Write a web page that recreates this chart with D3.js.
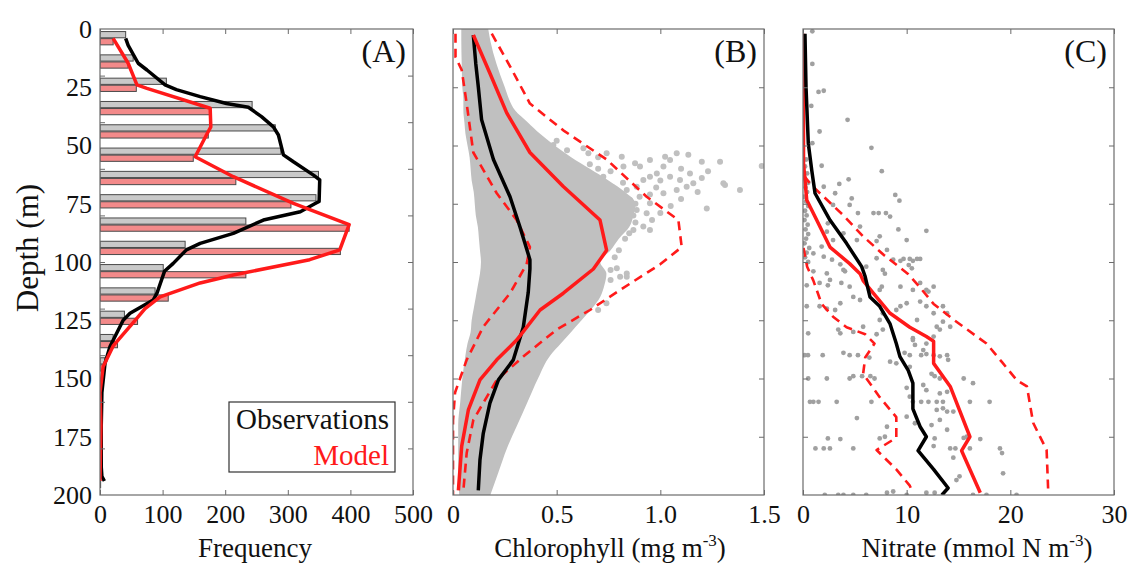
<!DOCTYPE html>
<html>
<head>
<meta charset="utf-8">
<script src="https://cdn.jsdelivr.net/npm/d3@7"></script>
<style>
  body { margin: 0; background: #fff; }
  text { font-family: "Liberation Serif", "Times New Roman", serif; fill: #111; }
</style>
</head>
<body>
<div id="chart-area"></div>
<script>
// ---- data ----
// (A) histogram, 10 m bins
var bins = ["0-10","10-20","20-30","30-40","40-50","50-60","60-70","70-80","80-90","90-100",
            "100-110","110-120","120-130","130-140","140-150","150-160","160-170","170-180","180-190","190-200"];
var obsFreq   = [41, 53, 106, 243, 280, 289, 349, 345, 233, 136, 101, 88, 39, 21, 8, 4, 3, 2, 2, 1];
var modelFreq = [21, 45, 58, 177, 173, 149, 217, 305, 398, 384, 233, 109, 60, 28, 6, 3, 2, 1, 1, 1];

// (A) smoothed frequency profiles [depth, frequency]
var obsFreqLine = [[4,41],[7,45],[14.7,61],[17.6,75],[24,104],[26,122],[29,160],[32,202],[33.6,237],[37.6,258],
  [42,277],[45.5,285],[54,293],[57,309],[62.7,341],[64.8,351],[74,350],[75,343],[78.4,320],[82,261],[87.7,213],
  [92,160],[94.8,138],[100.6,117],[104,103],[113.4,91],[116.3,85],[122,48],[125,37],[132,24],[136.3,16],
  [143.5,8],[156,3],[170,2],[188,2],[192,3],[194,7]];
var modelFreqLine = [[4,21],[14.7,45],[24,59],[25.5,75],[34,176],[42,177],[45.5,170],[54.8,152],[63.4,213],
  [74.8,309],[84,398],[94.8,383],[99,335],[105.6,213],[109,160],[115,96],[120,72],[126,53],[136,21],[145,5],
  [156,0],[170,1.5],[194,0]];

// (B) chlorophyll [depth, chl]
var chlObs = [[2.6,.098],[15,.11],[24.8,.122],[39,.138],[56,.195],[72,.275],[85,.323],[99,.371],[103,.371],
  [113,.363],[128,.339],[142,.291],[150.6,.219],[160.6,.178],[173.5,.146],[185,.130],[198,.122]];
var chlModel = [[2.6,.098],[19,.178],[36,.259],[53,.371],[67.6,.532],[82,.709],[95,.741],[103,.677],[113.4,.532],
  [120.6,.420],[133.5,.307],[142,.211],[150.6,.130],[163.5,.074],[179,.042],[198,.026]];
var chlModelHi = [[2,.187],[16,.275],[32,.371],[43.5,.532],[56,.741],[72,.934],[82,1.087],[93.6,1.103],[101,.999],
  [112,.806],[120.6,.661],[129,.500],[140.6,.339],[150.6,.211],[167.8,.098],[182,.066],[198,.050]];
var chlModelLo = [[2,.012],[12,.012],[17.6,.042],[32,.066],[53,.098],[70.5,.211],[82,.307],[93.6,.371],[101,.355],
  [113.4,.275],[127.8,.146],[142,.066],[156,.01],[168,0],[200,0]];
// dense observation cloud: [depth, min chl, max chl]
var chlCloud = [[0,.04,.17],[5,.04,.18],[15,.042,.21],[25,.045,.25],[30,.05,.27],[35,.05,.30],[40,.055,.36],
  [45,.06,.42],[50,.07,.49],[55,.08,.57],[60,.085,.66],[65,.09,.75],[70,.10,.83],[75,.105,.88],[80,.11,.87],
  [85,.12,.85],[90,.125,.80],[95,.13,.76],[100,.135,.71],[105,.13,.74],[110,.12,.73],[115,.11,.71],[120,.10,.67],
  [125,.09,.62],[130,.085,.57],[135,.07,.52],[140,.06,.47],[150,.045,.41],[160,.035,.36],[170,.025,.31],
  [180,.025,.26],[190,.025,.22],[200,.03,.18]];
// scattered observations outside the dense cloud [depth, chl]
var chlPts = [[42,.33],[44,.38],[47,.40],[46.2,.371],[49,.428],[50.5,.46],[49.8,.484],[53.3,.42],[56.2,.5],[59,.532],
  [57.6,.564],[51.2,.629],[53.3,.653],[63.4,.597],[62,.645],[64.8,.693],[63.4,.725],[53.3,.741],[54.8,.814],
  [59,.822],[67.7,.766],[70.5,.79],[69.1,.838],[73.4,.854],[67.7,.886],[57.6,.878],[59,.902],[56.2,.95],
  [64.8,.918],[63.4,.95],[62,.983],[59,1.015],[56.2,1.047],[54.8,1.023],[53.3,1.079],[54,1.135],[63.4,1.047],
  [64.8,1.095],[62,1.143],[66.2,1.159],[70.5,1.015],[69.1,1.079],[67.7,1.127],[74.8,.95],[79.1,.934],[77.7,.886],
  [57,1.288],[66.2,1.304],[69.1,1.384],[77,1.224],[58.8,1.489],[67,1.312],[84.8,.918],[86.3,.95],[86.3,.87],
  [87.7,.85],[102.7,.79],[106.3,.838],[103.4,.76],[106.3,.806],[104.9,.838],[107.7,.76],[117.7,.74],[120.6,.70],
  [60,.7],[61,.76],[66,.82],[72,.9],[75,.88],[80,.87],[83,.88],[58,.66],[55,.7],[52,.55],[48,.5],[68,.98],[71,.95],
  [65,1.0],[60,1.1],[57,1.2],[61,1.23],[64,1.2],[70,1.18],[73,1.1],[76,1.05],[79,1.0],[82,.96],[90,.83],[95,.8],[98,.78]];

// (C) nitrate [depth, N]
var nitObs = [[2,.19],[24.8,.29],[49,.51],[60.5,.84],[70.5,1.16],[82,2.6],[92,4.2],[102,5.66],[106,5.98],[115,6.46],
  [119,7.4],[126.6,8.4],[135,9.0],[140.6,9.35],[146.5,10.15],[152,10.6],[163,10.6],[170.7,11.3],[175,11.9],
  [181,11.1],[189,12.6],[197,14.0],[200,13.4]];
var nitModel = [[2,.05],[57.6,.05],[64.8,.19],[73.4,.36],[82,1.32],[93.6,2.6],[100.7,4.5],[105,5.5],[108,5.8],
  [113.4,6.78],[122,8.4],[128,10.3],[132,11.9],[134,12.6],[143.5,12.6],[153.4,14.2],[175,16.1],[181,15.3],[199,17.1]];
var nitModelHi = [[63,.1],[67,.8],[72,2.0],[80,3.9],[89,5.8],[97,7.8],[105,10.1],[111,11.3],[118,12.6],[125,14.6],
  [135,17.7],[143,19.2],[150.6,20.6],[153.4,21.6],[169,22.2],[180.7,23.5],[198,23.65]];
var nitModelLo = [[94,.05],[102,.4],[108,1.0],[113,1.4],[118,1.8],[123.5,2.9],[128,4.2],[131,6.0],[135,6.9],
  [141,6.0],[148,5.8],[158,7.4],[166.6,9.0],[175.4,9.0],[180.7,7.1],[189,9.0],[196,10.3],[199,10.6]];
var nitPts = [[1,0.9],[15,0.9],[27,1.5],[26.5,2.0],[33,0.8],[39,4.3],[44,1.6],[49,0.9],[51,6.6],[58.7,1.8],[61,7.6],
  [64.5,4.4],[66.5,3.5],[67.7,2.0],[70.5,3.1],[71.2,8.9],[72.7,4.7],[73.7,9.3],[75.5,2.9],[75.5,4.5],[79,5.3],
  [79,6.8],[79,7.3],[79,8.0],[80.5,8.4],[83.4,2.4],[84.8,5.5],[86,9.2],[86.6,11.9],[87,2.3],[87.7,3.9],[89,7.4],
  [90.6,2.9],[90.6,5.2],[90.6,10.0],[91,7.1],[93.4,1.8],[94.8,8.1],[96.3,1.0],[97.7,2.0],[98.4,7.1],[98.7,9.7],
  [98.7,10.3],[98.7,11.0],[98.7,11.3],[99,2.8],[99,8.7],[99.5,9.4],[99.5,10.6],[101,3.6],[101.3,10.2],[102,6.1],
  [102.7,10.5],[103.4,3.9],[103.4,7.7],[104,1.0],[104,4.05],[104.9,2.3],[105,7.9],[107.7,2.6],[109,1.6],[109,3.7],
  [109,11.3],[110,0.36],[110,2.4],[110.6,4.5],[110.6,7.6],[110.6,9.4],[110.6,12.6],[112,7.4],[112,10.6],[112,11.9],
  [112.7,12.1],[115,4.85],[116.3,5.5],[117,11.3],[117.7,3.6],[117.7,10.0],[119,0.36],[119,1.6],[119,9.4],[119,11.9],
  [119,13.5],[120,2.3],[120.6,3.1],[120.6,9.0],[122,7.7],[122,12.6],[122,13.9],[124.9,7.4],[124.9,11.0],[125.6,13.5],
  [127.8,5.8],[127.8,12.9],[127.8,14.2],[129,3.4],[129,7.7],[129,13.2],[130,4.85],[130.6,0.5],[130.6,3.6],[131,7.1],
  [132,12.6],[132.7,10.6],[133.5,10.6],[135,11.9],[135.6,10.8],[137.8,11.6],
  [140,0.16],[140,0.48],[140,1.9],[139,3.9],[140,4.5],[140,5.3],[141,6.4],[139,9.8],[140,10.3],[140,11.4],[139.5,11.9],
  [140,12.6],[140.5,13.2],[140,13.9],[142,14.0],[142.8,8.4],[143.5,9.0],[145,10.3],
  [150,0.5],[150,2.3],[150,4.5],[149,4.85],[149,5.7],[149,6.5],[150,6.9],[148,12.4],[149,12.7],[150,13.2],[150,15.5],
  [152,16.4],[152.8,11.6],[155,11.9],[156.4,13.2],[155.7,13.9],[154,10.0],[157.8,10.3],
  [160,0.67],[160,1.0],[160,1.5],[160,3.25],[160,6.6],[160,10.6],[160,11.4],[160,12.1],[160,12.9],[160,13.5],[160,16.1],
  [160,18.0],[163.5,12.9],[162.8,13.5],[164.2,13.9],[164.2,14.5],[167,5.2],[166.4,10.0],[169.2,10.8],[170,12.4],
  [167.8,13.2],[172,13.9],[170.7,8.1],
  [175.7,2.4],[176,3.6],[175.7,7.4],[175,7.9],[175.7,12.7],[175.5,15.5],[175,15.8],[176,17.1],
  [180,1.2],[180,2.0],[180,2.6],[180,4.85],[179,12.6],[180,14.2],[180,14.7],[180,16.1],[180,19.0],[182,19.2],
  [184,14.5],[190.7,19.3],[193.6,14.8],[192,15.1],
  [200,2.1],[200,3.4],[200,3.9],[200,4.85],[200,6.1],[199,8.1],[198.5,8.7],[200,10.0],[199,11.9],[199,12.7],
  [200,13.5],[200,16.4],[200,17.7],[200,20.6],
  [56,0.3],[59,0.2],[62,0.4],[64,0.15],[66,0.5],[68,0.25],[70,0.4],[72,0.1],[74,0.3],[76,0.5],[78,0.2],[80,0.35],
  [82,0.15],[84,0.45],[86,0.25],[88,0.5],[90,0.3],[92,0.15],[94,0.6],[96,0.35],[98,0.2],[100,0.5]];

var depthLabels = [0, 25, 50, 75, 100, 125, 150, 175, 200];
var freqTicks = [0, 100, 200, 300, 400, 500];
var chlTicks = [0, 0.5, 1.0, 1.5];
var nitTicks = [0, 10, 20, 30];

// ---- layout ----
var W = 1136, H = 564;
var yTop = 29, yBot = 495;
var svg = d3.select("#chart-area").append("svg")
        .attr("width", W).attr("height", H);

var y = d3.scaleLinear().domain([0, 200]).range([yTop, yBot]);

var red = "#ff1a1a", frame = "#6b6b6b";

function panel(id, x0, x1, xmax, xTicks, yTicks, fmt) {
        var x = d3.scaleLinear().domain([0, xmax]).range([x0, x1]);
        var g = svg.append("g").attr("class", "panel-" + id);
        svg.append("clipPath").attr("id", "clip-" + id)
                .append("rect").attr("x", x0).attr("y", yTop).attr("width", x1 - x0).attr("height", yBot - yTop);
        var plot = g.append("g").attr("clip-path", "url(#clip-" + id + ")");

        var ax = g.append("g").attr("class", "ticks");
        ax.append("g").attr("transform", "translate(0," + yBot + ")")
                .call(d3.axisBottom(x).tickValues(xTicks).tickSize(-5).tickFormat(""));
        ax.append("g").attr("transform", "translate(0," + yTop + ")")
                .call(d3.axisTop(x).tickValues(xTicks).tickSize(-5).tickFormat(""));
        ax.append("g").attr("transform", "translate(" + x0 + ",0)")
                .call(d3.axisLeft(y).tickValues(yTicks).tickSize(-5).tickFormat(""));
        ax.append("g").attr("transform", "translate(" + x1 + ",0)")
                .call(d3.axisRight(y).tickValues(yTicks).tickSize(-5).tickFormat(""));
        ax.selectAll(".domain").remove();
        ax.selectAll("line").attr("stroke", frame).attr("stroke-width", 1);

        var lab = g.append("g").attr("transform", "translate(0," + yBot + ")")
                .call(d3.axisBottom(x).tickValues(xTicks).tickSize(0).tickPadding(10).tickFormat(fmt));
        lab.select(".domain").remove();
        lab.selectAll("text").attr("font-size", "26px").attr("font-family", "Liberation Serif").attr("fill", "#111");

        return { x: x, g: g, plot: plot, x0: x0, x1: x1 };
}

function drawFrame(p) {
        p.g.append("rect").attr("x", p.x0).attr("y", yTop).attr("width", p.x1 - p.x0).attr("height", yBot - yTop)
                .attr("fill", "none").attr("stroke", frame).attr("stroke-width", 1.2);
}

function profile(p, data, color, width, dash) {
        var line = d3.line().x(d => p.x(d[1])).y(d => y(d[0]));
        p.plot.append("path").datum(data).attr("d", line)
                .attr("fill", "none").attr("stroke", color).attr("stroke-width", width)
                .attr("stroke-linejoin", "round")
                .attr("stroke-dasharray", dash || null);
}

// ---- (A) ----
var pA = panel("A", 100, 413, 500, freqTicks, d3.range(20, 200, 20), d => d);
var yBin = d3.scaleBand().domain(bins).range([yTop, yBot]);
var bw = yBin.bandwidth();
var ySub = d3.scaleBand().domain(["obs", "model"]).range([0.11 * bw, 0.68 * bw]).paddingInner(0.12);

var binG = pA.plot.selectAll(".bin").data(bins).enter().append("g")
        .attr("transform", d => "translate(0," + yBin(d) + ")");
binG.append("rect")
        .attr("x", pA.x(0)).attr("y", ySub("obs"))
        .attr("width", (d, i) => pA.x(obsFreq[i]) - pA.x(0)).attr("height", ySub.bandwidth())
        .attr("fill", "#c9c9c9").attr("stroke", "#4a4a4a").attr("stroke-width", 1);
binG.append("rect")
        .attr("x", pA.x(0)).attr("y", ySub("model"))
        .attr("width", (d, i) => pA.x(modelFreq[i]) - pA.x(0)).attr("height", ySub.bandwidth())
        .attr("fill", "#f38a8a").attr("stroke", "#4a4a4a").attr("stroke-width", 1);

profile(pA, obsFreqLine, "#000", 3.5);
profile(pA, modelFreqLine, red, 3.5);
drawFrame(pA);

// depth labels on the left of (A)
var yLab = svg.append("g").attr("transform", "translate(" + 100 + ",0)")
        .call(d3.axisLeft(y).tickValues(depthLabels).tickSize(0).tickPadding(8));
yLab.select(".domain").remove();
yLab.selectAll("text").attr("font-size", "26px").attr("font-family", "Liberation Serif").attr("fill", "#111");

// legend
var leg = svg.append("g");
leg.append("rect").attr("x", 229).attr("y", 402).attr("width", 166).attr("height", 70)
        .attr("fill", "#fff").attr("stroke", "#333").attr("stroke-width", 1.2);
leg.append("text").attr("x", 389).attr("y", 429).attr("text-anchor", "end")
        .attr("font-size", "29px").text("Observations");
leg.append("text").attr("x", 389).attr("y", 465).attr("text-anchor", "end")
        .attr("font-size", "29px").style("fill", red).text("Model");

// ---- (B) ----
var pB = panel("B", 453, 764, 1.5, chlTicks, d3.range(25, 200, 25), d => d === 0 ? "0" : d3.format(".1f")(d));
var cloud = d3.area().curve(d3.curveMonotoneY)
        .y(d => y(d[0])).x0(d => pB.x(d[1])).x1(d => pB.x(d[2]));
pB.plot.append("path").datum(chlCloud).attr("d", cloud).attr("fill", "#c0c0c0");
pB.plot.selectAll(".chl-pt").data(chlPts).enter().append("circle")
        .attr("cx", d => pB.x(d[1])).attr("cy", d => y(d[0])).attr("r", 3).attr("fill", "#c0c0c0");
profile(pB, chlModelLo, red, 2.6, "9,6");
profile(pB, chlModelHi, red, 2.6, "9,6");
profile(pB, chlObs, "#000", 3.5);
profile(pB, chlModel, red, 3.5);
drawFrame(pB);

// ---- (C) ----
var pC = panel("C", 803, 1114, 30, nitTicks, d3.range(25, 200, 25), d => d);
pC.plot.selectAll(".nit-pt").data(nitPts).enter().append("circle")
        .attr("cx", d => pC.x(d[1])).attr("cy", d => y(d[0])).attr("r", 2.4).attr("fill", "#a0a0a0");
profile(pC, nitModelLo, red, 2.6, "9,6");
profile(pC, nitModelHi, red, 2.6, "9,6");
profile(pC, nitModel, red, 3.5);
profile(pC, nitObs, "#000", 3.5);
drawFrame(pC);

// ---- titles ----
[["(A)", 406], ["(B)", 757], ["(C)", 1107]].forEach(function (t) {
        svg.append("text").attr("x", t[1]).attr("y", 62).attr("text-anchor", "end")
                .attr("font-size", "32px").text(t[0]);
});

svg.append("text").attr("x", 255).attr("y", 557).attr("text-anchor", "middle")
        .attr("font-size", "27px").text("Frequency");

var tB = svg.append("text").attr("x", 610).attr("y", 557).attr("text-anchor", "middle").attr("font-size", "27px");
tB.append("tspan").text("Chlorophyll (mg m");
tB.append("tspan").attr("dy", -11).attr("font-size", "17px").text("-3");
tB.append("tspan").attr("dy", 11).text(")");

var tC = svg.append("text").attr("x", 977).attr("y", 557).attr("text-anchor", "middle").attr("font-size", "27px");
tC.append("tspan").text("Nitrate (mmol N m");
tC.append("tspan").attr("dy", -11).attr("font-size", "17px").text("-3");
tC.append("tspan").attr("dy", 11).text(")");

svg.append("text").attr("transform", "translate(38," + 248 + ") rotate(-90)")
        .attr("text-anchor", "middle").attr("font-size", "31px").text("Depth (m)");
</script>
</body>
</html>
